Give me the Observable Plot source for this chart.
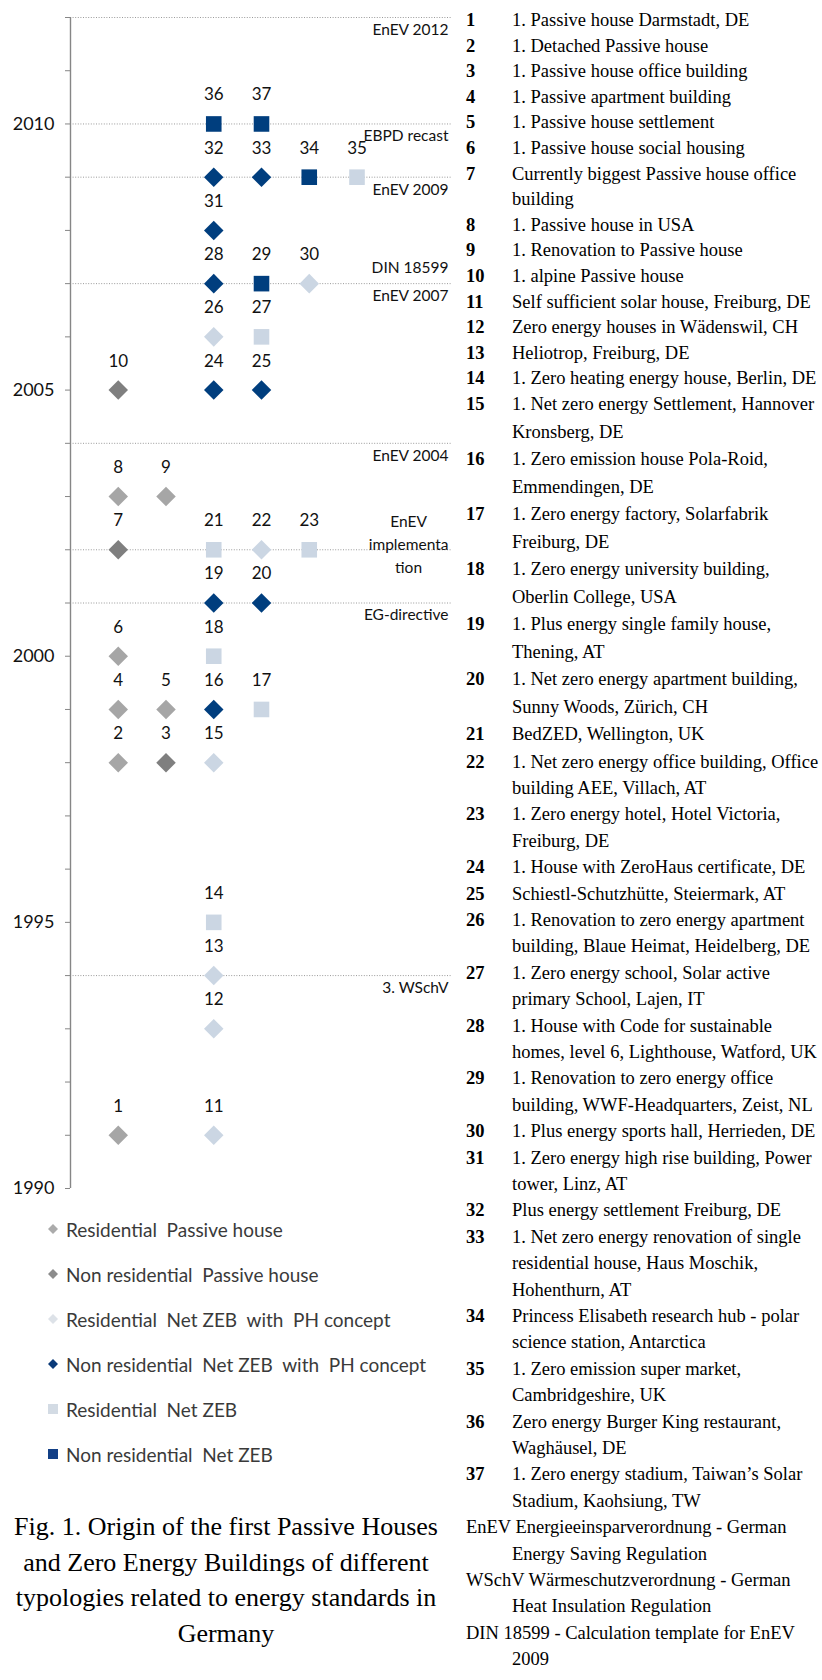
<!DOCTYPE html>
<html><head><meta charset="utf-8">
<script src="https://cdn.jsdelivr.net/npm/d3@7"></script>
<script src="https://cdn.jsdelivr.net/npm/@observablehq/plot@0.6"></script>
<style>
body{margin:0;background:#fff;}
#page{position:relative;width:822px;height:1680px;overflow:hidden;background:#fff;}
#chart{position:absolute;left:0;top:0;}
.leg{position:absolute;left:47px;height:24px;display:flex;align-items:center;white-space:nowrap;font-family:Lato,sans-serif;font-size:19px;color:#3a3a3a;}
.leg svg{margin-right:7px;}
#caption{position:absolute;left:0;width:452px;top:1509px;text-align:center;font-family:"Liberation Serif",serif;font-size:26px;line-height:35.5px;color:#000;}
.ln{position:absolute;white-space:nowrap;font-family:"Liberation Serif",serif;font-size:18.5px;line-height:22px;color:#000;}
.num{font-weight:bold;}
</style>
</head><body><div id="page"><div id="chart"></div><div id="legend"></div><div id="list"></div>
<div id="caption">Fig. 1. Origin of the first Passive Houses<br>and Zero Energy Buildings of different<br>typologies related to energy standards in<br>Germany</div></div>
<script>
// ---- data ----
const ids = [1,2,3,4,5,6,7,8,9,10,11,12,13,14,15,16,17,18,19,20,21,22,23,24,25,26,27,28,29,30,31,32,33,34,35,36,37];
const years = [1991,1998,1998,1999,1999,2000,2002,2003,2003,2005,1991,1993,1994,1995,1998,1999,1999,2000,2001,2001,2002,2002,2002,2005,2005,2006,2006,2007,2007,2007,2008,2009,2009,2009,2009,2010,2010];
const columns = [1,1,2,1,2,1,1,1,2,1,3,3,3,3,3,3,4,3,3,4,3,4,5,3,4,3,4,3,4,5,3,3,4,5,6,3,4];
const categories = ["Residential Passive house","Non residential Passive house","Residential Net ZEB with PH concept","Non residential Net ZEB with PH concept","Residential Net ZEB","Non residential Net ZEB"];
const typeIndex = [0,0,1,0,0,0,1,0,0,1,2,2,2,4,2,3,4,4,3,3,4,2,4,3,3,2,4,3,5,2,3,3,3,5,4,5,5];
const legendLabels = ["Residential  Passive house","Non residential  Passive house","Residential  Net ZEB  with  PH concept","Non residential  Net ZEB  with  PH concept","Residential  Net ZEB","Non residential  Net ZEB"];
const standardNames = ["EnEV 2012","EBPD recast","EnEV 2009","DIN 18599","EnEV 2007","EnEV 2004","EnEV\nimplementa\ntion","EG-directive","3. WSchV"];
const standardYears = [2012,2010,2009,2007,2007,2004,2002,2001,1994];
const standardPlace = ["below","below","below","above","below","below","middle","below","below"];
const lineYears = [2012,2010,2009,2007,2004,2002,2001,1994];
const tickYears = [1990,1991,1992,1993,1994,1995,1996,1997,1998,1999,2000,2001,2002,2003,2004,2005,2006,2007,2008,2009,2010,2011,2012];
const listKeys = ["1","2","3","4","5","6","7","8","9","10","11","12","13","14","15","16","17","18","19","20","21","22","23","24","25","26","27","28","29","30","31","32","33","34","35","36","37"];
const listTexts = [
 ["1. Passive house Darmstadt, DE"],
 ["1. Detached Passive house"],
 ["1. Passive house office building"],
 ["1. Passive apartment building"],
 ["1. Passive house settlement"],
 ["1. Passive house social housing"],
 ["Currently biggest Passive house office","building"],
 ["1. Passive house in USA"],
 ["1. Renovation to Passive house"],
 ["1. alpine Passive house"],
 ["Self sufficient solar house, Freiburg, DE"],
 ["Zero energy houses in Wädenswil, CH"],
 ["Heliotrop, Freiburg, DE"],
 ["1. Zero heating energy house, Berlin, DE"],
 ["1. Net zero energy Settlement, Hannover","Kronsberg, DE"],
 ["1. Zero emission house Pola-Roid,","Emmendingen, DE"],
 ["1. Zero energy factory, Solarfabrik","Freiburg, DE"],
 ["1. Zero energy university building,","Oberlin College, USA"],
 ["1. Plus energy single family house,","Thening, AT"],
 ["1. Net zero energy apartment building,","Sunny Woods, Zürich, CH"],
 ["BedZED, Wellington, UK"],
 ["1. Net zero energy office building, Office","building AEE, Villach, AT"],
 ["1. Zero energy hotel, Hotel Victoria,","Freiburg, DE"],
 ["1. House with ZeroHaus certificate, DE"],
 ["Schiestl-Schutzhütte, Steiermark, AT"],
 ["1. Renovation to zero energy apartment","building, Blaue Heimat, Heidelberg, DE"],
 ["1. Zero energy school, Solar active","primary School, Lajen, IT"],
 ["1. House with Code for sustainable","homes, level 6, Lighthouse, Watford, UK"],
 ["1. Renovation to zero energy office","building, WWF-Headquarters, Zeist, NL"],
 ["1. Plus energy sports hall, Herrieden, DE"],
 ["1. Zero energy high rise building, Power","tower, Linz, AT"],
 ["Plus energy settlement Freiburg, DE"],
 ["1. Net zero energy renovation of single","residential house, Haus Moschik,","Hohenthurn, AT"],
 ["Princess Elisabeth research hub - polar","science station, Antarctica"],
 ["1. Zero emission super market,","Cambridgeshire, UK"],
 ["Zero energy Burger King restaurant,","Waghäusel, DE"],
 ["1. Zero energy stadium, Taiwan’s Solar","Stadium, Kaohsiung, TW"]
];
const footnotes = [
 ["EnEV Energieeinsparverordnung - German","Energy Saving Regulation"],
 ["WSchV Wärmeschutzverordnung - German","Heat Insulation Regulation"],
 ["DIN 18599 - Calculation template for EnEV","2009"]
];

// ---- styles ----
const symbols = ["diamond2","diamond2","diamond2","diamond2","square","square"];
const colors = ["#a6a6a6","#7f7f7f","#cbd6e3","#003e7e","#cbd6e3","#003e7e"];
const legendColors = ["#ababab","#8c8c8c","#dde2e8","#0a3a78","#d3dbe4","#123f86"];

const data = ids.map((id, i) => ({id, year: years[i], col: columns[i], type: categories[typeIndex[i]]}));
const standards = standardNames.map((name, i) => ({name, year: standardYears[i], place: standardPlace[i]}));

const chart = Plot.plot({
  width: 452, height: 1200,
  marginLeft: 70, marginRight: 0, marginTop: 17, marginBottom: 12,
  style: {fontFamily: "Lato, sans-serif", fontSize: "17px", background: "transparent", color: "#000", overflow: "visible"},
  x: {domain: [0, 8], axis: null},
  y: {domain: [1990, 2012]},
  symbol: {domain: categories, range: symbols},
  color: {domain: categories, range: colors},
  marks: [
    Plot.ruleY(lineYears, {x1: 0, x2: 8, stroke: "#9a9a9a", strokeDasharray: "1,1.6"}),
    Plot.ruleX([0], {y1: 1990, y2: 2012, stroke: "#868686", strokeWidth: 1.4}),
    Plot.axisY(tickYears, {anchor: "left", tickSize: 5, tickPadding: 11, stroke: "#868686", fill: "#111", label: null, fontSize: 18,
      tickFormat: d => d % 5 === 0 ? String(d) : ""}),
    Plot.dot(data, {x: "col", y: "year", symbol: "type", fill: "type", r: 8.8}),
    Plot.text(data, {x: "col", y: "year", text: "id", dy: -29, fill: "#111"}),
    Plot.text(standards.filter(d => d.place === "below"), {frameAnchor: "right", y: "year", text: "name", dx: -4, dy: 12.5, textAnchor: "end", fontSize: 15.5, fill: "#111", ariaLabel: "standards"}),
    Plot.text(standards.filter(d => d.place === "above"), {frameAnchor: "right", y: "year", text: "name", dx: -4, dy: -15.5, textAnchor: "end", fontSize: 15.5, fill: "#111", ariaLabel: "standards"}),
    Plot.text(standards.filter(d => d.place === "middle"), {x: 7.08, y: "year", text: "name", dy: -7, lineHeight: 1.5, textAnchor: "middle", fontSize: 15.5, fill: "#111", ariaLabel: "standards"})
  ]
});
document.getElementById("chart").appendChild(chart);
// condensed look of the standards' labels
d3.select(chart).selectAll('g[aria-label="standards"] text').style("letter-spacing", "-0.6px").each(function () {
  if (this.querySelector("tspan")) return;
  const len = this.getComputedTextLength();
  if (len > 0) { this.setAttribute("textLength", (len * 0.92).toFixed(1)); this.setAttribute("lengthAdjust", "spacingAndGlyphs"); }
});

// ---- legend ----
const legend = document.getElementById("legend");
categories.forEach((c, i) => {
  const row = document.createElement("div");
  row.className = "leg";
  row.style.top = (1229 + i * 45 - 12) + "px";
  const shape = symbols[i] === "square"
    ? `<rect x="1" y="1" width="10" height="10" fill="${legendColors[i]}"/>`
    : `<polygon points="6,1 11,6 6,11 1,6" fill="${legendColors[i]}"/>`;
  row.innerHTML = `<svg width="12" height="12">${shape}</svg><span style="white-space:pre">${legendLabels[i]}</span>`;
  legend.appendChild(row);
});

// ---- description list (line pitch per block of the list) ----
const list = document.getElementById("list");
function pitchBefore(itemIndex) { return itemIndex < 15 ? 25.6 : itemIndex < 22 ? 27.5 : 26.4; }
let y = 20;
let first = true;
function addLine(text, left, cls) {
  const d = document.createElement("div");
  d.className = "ln" + (cls ? " " + cls : "");
  d.style.left = left + "px";
  d.style.top = (y - 11) + "px";
  d.textContent = text;
  list.appendChild(d);
}
const allEntries = listTexts.map((lines, i) => ({key: listKeys[i], lines})).concat(footnotes.map(lines => ({key: null, lines})));
allEntries.forEach((e, i) => {
  e.lines.forEach((t, j) => {
    if (!first) y += pitchBefore(j === 0 ? i : i + 1);
    first = false;
    if (j === 0 && e.key) addLine(e.key, 466, "num");
    addLine(t, (j === 0 && !e.key) ? 466 : 512, "");
  });
});
</script>
</body></html>
